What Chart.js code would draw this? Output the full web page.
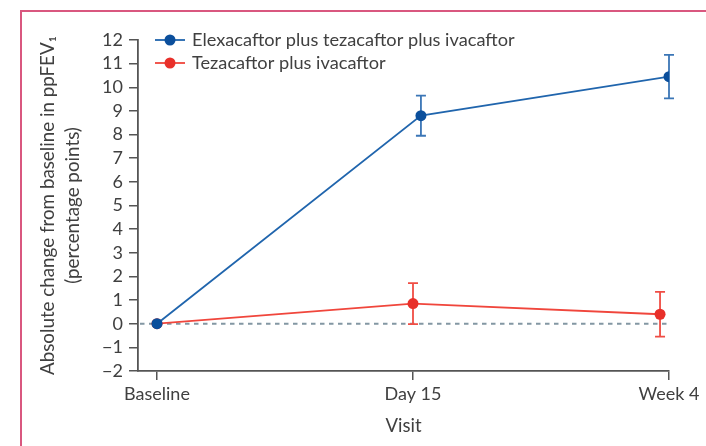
<!DOCTYPE html>
<html><head><meta charset="utf-8">
<script src="https://cdn.jsdelivr.net/npm/chart.js@4.4.1/dist/chart.umd.min.js"></script>
<style>
html,body{margin:0;padding:0;background:#fff;}
#wrap{position:relative;width:706px;height:446px;}
#frame{position:absolute;left:20px;top:10px;right:0;bottom:0;border-left:2px solid #d9577f;border-top:2px solid #d9577f;pointer-events:none;}
</style></head><body>
<div id="wrap"><canvas id="c" width="706" height="446"></canvas><div id="frame"></div></div>
<script>
// ---- data ----
const visits = ['Baseline', 'Day 15', 'Week 4'];
const seriesNames = ['Elexacaftor plus tezacaftor plus ivacaftor', 'Tezacaftor plus ivacaftor'];
const elxMean = [0, 8.8, 10.45];
const elxErr  = [0, 0.85, 0.92];
const tezMean = [0, 0.85, 0.4];
const tezErr  = [0, 0.87, 0.95];
const yTickValues = [-2, -1, 0, 1, 2, 3, 4, 5, 6, 7, 8, 9, 10, 11, 12];
const yTitle = ['Absolute change from baseline in ppFEV\u2081', '(percentage points)'];
const xTitle = 'Visit';

// ---- styling ----
const BLUE_LINE = '#2065ad', BLUE_PT = '#0b4f9c', BLUE_ERR = '#3b76b6';
const RED_LINE = '#f0463c', RED_PT = '#e8302a', RED_ERR = '#f04d44';
const AXIS = '#555555', TXT = '#404040';
const FONT = 'Lato, "Open Sans", sans-serif';
// small horizontal dodge so overlapping error bars are distinguishable
const dodgeElx = [0, 0.031, 0];
const dodgeTez = [0, 0, -0.035];

const toPts = (mean, dodge) => mean.map((v, i) => ({x: i + dodge[i], y: v}));

const errorBars = {
  id: 'errorBars',
  beforeDatasetDraw(chart, args) {
    const ds = chart.data.datasets[args.index];
    if (!ds.errors) return;
    const meta = args.meta, ys = chart.scales.y, ctx = chart.ctx;
    ctx.save();
    ctx.strokeStyle = ds.errColor; ctx.lineWidth = 1.8;
    meta.data.forEach((el, i) => {
      const e = ds.errors[i]; if (!e) return;
      const m = ds.data[i].y;
      const t = ys.getPixelForValue(m + e), b = ys.getPixelForValue(m - e), x = el.x;
      ctx.beginPath();
      ctx.moveTo(x, t); ctx.lineTo(x, b);
      ctx.moveTo(x - 5, t); ctx.lineTo(x + 5, t);
      ctx.moveTo(x - 5, b); ctx.lineTo(x + 5, b);
      ctx.stroke();
    });
    ctx.restore();
  }
};

const zeroLine = {
  id: 'zeroLine',
  beforeDatasetsDraw(chart) {
    const {ctx, chartArea, scales} = chart;
    const y = scales.y.getPixelForValue(0);
    ctx.save();
    ctx.strokeStyle = '#8397a3'; ctx.lineWidth = 2; ctx.setLineDash([4.5, 4.5]);
    ctx.beginPath(); ctx.moveTo(chartArea.left + 2, y); ctx.lineTo(scales.x.getPixelForValue(visits.length - 1), y); ctx.stroke();
    ctx.restore();
  }
};

const insideLegend = {
  id: 'insideLegend',
  afterDraw(chart) {
    const {ctx, chartArea} = chart;
    ctx.save();
    chart.data.datasets.forEach((ds, i) => {
      const y = chartArea.top + i * 23;
      const x0 = chartArea.left + 17;
      ctx.strokeStyle = ds.borderColor; ctx.lineWidth = 1.8;
      ctx.beginPath(); ctx.moveTo(x0, y); ctx.lineTo(x0 + 30, y); ctx.stroke();
      ctx.fillStyle = ds.pointBackgroundColor;
      ctx.beginPath(); ctx.arc(x0 + 15, y, 5.5, 0, Math.PI * 2); ctx.fill();
      ctx.fillStyle = TXT; ctx.font = '18.2px ' + FONT; ctx.textBaseline = 'middle'; ctx.textAlign = 'left';
      ctx.fillText(ds.label, x0 + 37, y);
    });
    ctx.restore();
  }
};

new Chart(document.getElementById('c'), {
  type: 'line',
  data: {
    datasets: [
      {label: seriesNames[0], data: toPts(elxMean, dodgeElx), errors: elxErr, errColor: BLUE_ERR,
       borderColor: BLUE_LINE, borderWidth: 1.8, pointBackgroundColor: BLUE_PT, pointBorderColor: BLUE_PT,
       pointRadius: 5.5, pointBorderWidth: 0, tension: 0},
      {label: seriesNames[1], data: toPts(tezMean, dodgeTez), errors: tezErr, errColor: RED_ERR,
       borderColor: RED_LINE, borderWidth: 1.8, pointBackgroundColor: RED_PT, pointBorderColor: RED_PT,
       pointRadius: 5.5, pointBorderWidth: 0, tension: 0}
    ]
  },
  options: {
    responsive: false, animation: false, devicePixelRatio: 1,
    layout: {padding: {left: 0, top: 40, right: 37, bottom: 0}},
    plugins: {legend: {display: false}, tooltip: {enabled: false}},
    scales: {
      x: {
        type: 'linear', min: -0.0742, max: visits.length - 1,
        afterBuildTicks: s => { s.ticks = visits.map((_, i) => ({value: i})); },
        afterFit: s => { s.height = 75; },
        ticks: {autoSkip: false, maxRotation: 0, padding: 3, color: TXT, font: {family: FONT, size: 18},
                callback: v => visits[v]},
        grid: {display: true, drawOnChartArea: false, drawTicks: true, tickLength: 9, color: AXIS, lineWidth: 1.5},
        border: {display: true, color: AXIS, width: 1.8},
        title: {display: true, text: xTitle, color: TXT, font: {family: FONT, size: 18.5, lineHeight: 1.2}, padding: {top: 0, bottom: 9}}
      },
      y: {
        min: yTickValues[0], max: yTickValues[yTickValues.length - 1],
        afterBuildTicks: s => { s.ticks = yTickValues.map(v => ({value: v})); },
        afterFit: s => { s.width = 138; },
        ticks: {autoSkip: false, padding: 6, color: TXT, font: {family: FONT, size: 18},
                callback: v => (v < 0 ? '\u2212' + Math.abs(v) : String(v))},
        grid: {display: true, drawOnChartArea: false, drawTicks: true, tickLength: 9, color: AXIS, lineWidth: 1.5},
        border: {display: true, color: AXIS, width: 1.8},
        title: {display: true, text: yTitle, color: TXT, font: {family: FONT, size: 18.8, lineHeight: 1.3}, padding: {top: 36}}
      }
    }
  },
  plugins: [errorBars, zeroLine, insideLegend]
});
</script>
</body></html>
